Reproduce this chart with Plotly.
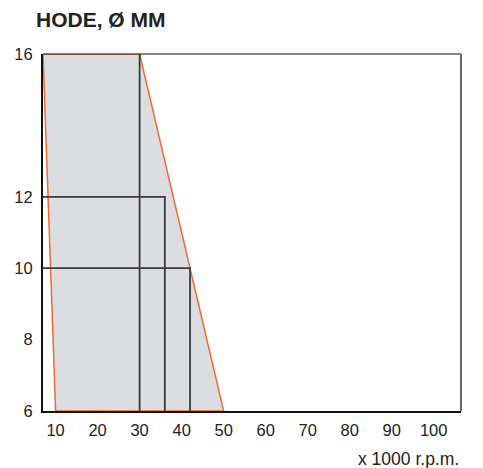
import plotly.graph_objects as go

# Data
rpm_min = 7            # left edge of chart (x 1000 r.p.m.)
rpm_max = 106.5
dia_min, dia_max = 6, 16

# Operating envelope (x 1000 r.p.m., diameter mm)
env_rpm = [rpm_min, 30, 50, 10]
env_dia = [16, 16, 6, 6]

# Limit boxes: (max rpm, max diameter)
box_rpm = [30, 36, 42]
box_dia = [16, 12, 10]

x_ticks = [10, 20, 30, 40, 50, 60, 70, 80, 90, 100]
y_ticks = [6, 8, 10, 12, 16]

FONT = "Liberation Sans, Arial, sans-serif"

fig = go.Figure()

fig.add_trace(go.Scatter(
    x=env_rpm + [env_rpm[0]], y=env_dia + [env_dia[0]],
    mode="lines", fill="toself", fillcolor="#dcdde0",
    line=dict(color="#f26a2e", width=1.5), hoverinfo="skip", showlegend=False))

bx, by = [], []
for r, d in zip(box_rpm, box_dia):
    if d < dia_max:
        bx += [rpm_min, r, r, None]
        by += [d, d, dia_min, None]
    else:
        bx += [r, r, None]
        by += [d, dia_min, None]
fig.add_trace(go.Scatter(x=bx, y=by, mode="lines",
                         line=dict(color="#3a3a3a", width=1.8),
                         hoverinfo="skip", showlegend=False))

# frame top and right
fig.add_shape(type="line", xref="x domain", yref="y domain", x0=0, x1=1, y0=1, y1=1,
              line=dict(color="#111", width=1.2))
fig.add_shape(type="line", xref="x domain", yref="y domain", x0=1, x1=1, y0=0, y1=1,
              line=dict(color="#666", width=2))

fig.update_layout(
    width=475, height=460,
    margin=dict(l=35, r=22, t=46, b=57),
    paper_bgcolor="white", plot_bgcolor="white",
    font=dict(family=FONT, size=16, color="#222"),
    xaxis=dict(range=[rpm_min, rpm_max], tickvals=x_ticks, ticktext=[str(v) for v in x_ticks],
               showgrid=False, zeroline=False, showline=True, linecolor="#111", linewidth=2,
               ticks="", ticklabelstandoff=3, tickfont=dict(size=16.5), automargin=False),
    yaxis=dict(range=[dia_min, dia_max], tickvals=y_ticks, ticktext=[str(v) for v in y_ticks],
               showgrid=False, zeroline=False, showline=True, linecolor="#111", linewidth=2,
               ticks="", ticklabelstandoff=5, tickfont=dict(size=16.5), automargin=False),
    annotations=[
        dict(text="<b>HODE, Ø MM</b>", xref="paper", yref="paper",
             x=-9/418, y=1 + 34/357, xanchor="left", yanchor="middle", showarrow=False,
             font=dict(size=21, color="#222", family=FONT)),
        dict(text="x 1000 r.p.m.", xref="paper", yref="paper",
             x=1, y=-48/357, xanchor="right", yanchor="middle", showarrow=False,
             font=dict(size=17.5, color="#222", family=FONT)),
    ],
)

fig.write_html("out.html")
